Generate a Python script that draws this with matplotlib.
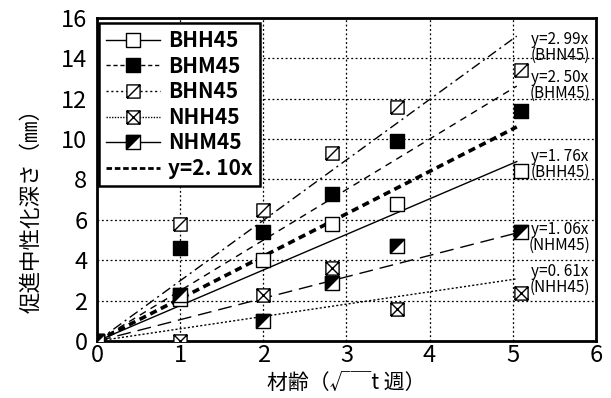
import numpy as np
import matplotlib
matplotlib.use("Agg")
import matplotlib.pyplot as plt
from matplotlib.path import Path
from matplotlib.lines import Line2D

plt.rcParams['font.family'] = ['Noto Sans CJK JP', 'DejaVu Sans']

# data: age (sqrt of weeks) vs. accelerated carbonation depth (mm)
age = [0, 1, 2, 2.83, 3.61, 5.10]
bhh45 = [0, 2.1, 4.0, 5.8, 6.8, 8.4]
bhm45 = [0, 4.6, 5.4, 7.3, 9.9, 11.4]
bhn45 = [0, 5.8, 6.5, 9.3, 11.6, 13.4]
nhh45 = [0, 0, 2.3, 3.6, 1.6, 2.4]
nhm45 = [0, 2.3, 1.0, 2.9, 4.7, 5.4]

coef_names = ['BHN45', 'BHM45', 'BHH45', 'NHM45', 'NHH45']
coefs = [2.99, 2.50, 1.76, 1.06, 0.61]
coef_all = 2.10
x_end = 5.05

# custom markers
sq = [(-1, -1), (1, -1), (1, 1), (-1, 1), (-1, -1)]
sq_codes = [Path.MOVETO] + [Path.LINETO] * 4
m_open = Path(sq, sq_codes)
m_slash = Path(sq + [(-1, -1), (1, 1)], sq_codes + [Path.MOVETO, Path.LINETO])
m_cross = Path(sq + [(-1, -1), (1, 1), (-1, 1), (1, -1)],
               sq_codes + [Path.MOVETO, Path.LINETO, Path.MOVETO, Path.LINETO])
m_tri = Path([(-1, -1), (-1, 1), (1, 1), (-1, -1)],
             [Path.MOVETO, Path.LINETO, Path.LINETO, Path.CLOSEPOLY])

fig = plt.figure(figsize=(6.11, 3.98), dpi=100)
ax = fig.add_axes([0.159, 0.143, 0.816, 0.812])

ms = 9.5
styles = {
    'BHN45': (0, (7, 3, 1.5, 3)),
    'BHM45': (0, (5, 4)),
    'BHH45': '-',
    'NHM45': (0, (10, 5)),
    'NHH45': (0, (1.5, 1.5)),
}

xx = np.array([0, x_end])
for name, k in zip(coef_names, coefs):
    ax.plot(xx, k * xx, color='k', lw=1, linestyle=styles[name], zorder=3)
ax.plot(xx, coef_all * xx, color='k', lw=2.6, linestyle=(0, (2, 1.3)), zorder=3)

kw = dict(linestyle='none', markersize=ms, markeredgecolor='k', markeredgewidth=1, zorder=5)
ax.plot(age, bhh45, marker=m_open, markerfacecolor='white', **kw)
ax.plot(age, bhm45, marker=m_open, markerfacecolor='black', **kw)
ax.plot(age, bhn45, marker=m_slash, markerfacecolor='white', **kw)
ax.plot(age, nhh45, marker=m_cross, markerfacecolor='white', **kw)
ax.plot(age, nhm45, marker=m_open, markerfacecolor='white', **kw)
ax.plot(age, nhm45, marker=m_tri, markerfacecolor='black', **kw)

# right side labels
lab_y = [14.55, 12.65, 8.75, 5.15, 3.05]
for name, k, yy in zip(coef_names, coefs, lab_y):
    ax.text(5.57, yy, 'y=%sx\n(%s)' % (('%.2f' % k).replace('.', '. '), name),
            ha='center', va='center', fontsize=11, linespacing=0.9, zorder=6)

ax.set_xlim(0, 6)
ax.set_ylim(0, 16)
ax.set_xticks(range(0, 7))
ax.set_yticks(range(0, 17, 2))
ax.grid(True, color='k', linestyle=(0, (1.5, 2)), linewidth=0.9)
ax.tick_params(direction='in', length=0, labelsize=17)
ax.tick_params(axis='y', pad=7)
ax.tick_params(axis='x', pad=2)
for s in ax.spines.values():
    s.set_linewidth(2)

ax.set_xlabel('材齢（√￣t 週）', fontsize=15)
ax.xaxis.set_label_coords(0.5, -0.095)
ax.set_ylabel('促進中性化深さ（㎜）', fontsize=15.5)
ax.yaxis.set_label_coords(-0.11, 0.42)

# legend
lkw = dict(color='k', lw=1, markersize=ms, markeredgecolor='k', markeredgewidth=1)
handles = [
    Line2D([], [], linestyle='-', marker=m_open, markerfacecolor='white', **lkw),
    Line2D([], [], linestyle=(0, (3, 2)), marker=m_open, markerfacecolor='black', **lkw),
    Line2D([], [], linestyle=(0, (1.5, 2)), marker=m_slash, markerfacecolor='white', **lkw),
    Line2D([], [], linestyle=(0, (1, 1)), marker=m_cross, markerfacecolor='white', **lkw),
    (Line2D([], [], linestyle='-', marker=m_open, markerfacecolor='white', **lkw),
     Line2D([], [], linestyle='none', marker=m_tri, markerfacecolor='black',
            markersize=ms, markeredgecolor='k', markeredgewidth=1)),
    Line2D([], [], color='k', lw=2, linestyle=(0, (2, 1))),
]
labels = ['BHH45', 'BHM45', 'BHN45', 'NHH45', 'NHM45', 'y=2. 10x']
leg = ax.legend(handles, labels, loc='upper left', bbox_to_anchor=(0.003, 0.985),
                borderaxespad=0, fancybox=False, framealpha=1, edgecolor='k',
                prop={'size': 15, 'weight': 'bold'}, handlelength=2.6,
                handletextpad=0.4, labelspacing=0.22, borderpad=0.35)
leg.get_frame().set_linewidth(1.8)
leg.set_zorder(10)

fig.savefig('out.png', dpi=100)
